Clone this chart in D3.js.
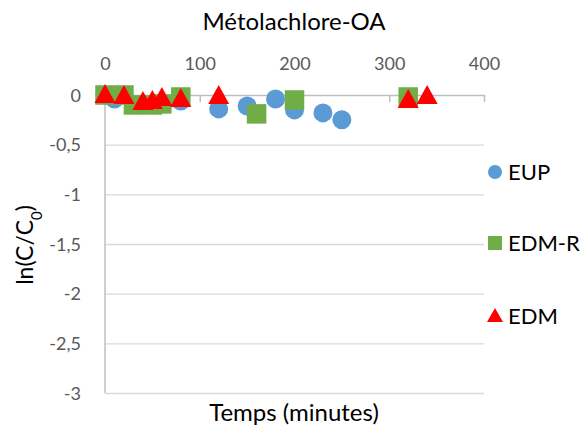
<!DOCTYPE html>
<meta charset="utf-8">
<style>
body { margin: 0; background: #fff; }
svg text { font-family: Lato, "Open Sans", sans-serif; }
.tick text { fill: #595959; font-size: 18px; }
</style>
<svg width="587" height="434"></svg>
<script src="https://d3js.org/d3.v7.min.js"></script>
<script>

// temps (minutes) et ln(C/C0) par série
var eupT = [0, 10, 80, 120, 150, 180, 200, 230, 250];
var eupY = [0, -0.04, -0.06, -0.14, -0.11, -0.04, -0.15, -0.18, -0.25];

var edmrT = [0, 20, 30, 50, 60, 80, 160, 200, 320];
var edmrY = [0, 0, -0.1, -0.1, -0.09, -0.02, -0.19, -0.05, -0.02];

var edmT = [0, 20, 40, 50, 60, 80, 120, 320, 340];
var edmY = [0, -0.01, -0.07, -0.06, -0.03, -0.04, -0.01, -0.05, -0.01];

var xTicks = [0, 100, 200, 300, 400];
var yTicks = [0, -0.5, -1, -1.5, -2, -2.5, -3];
var seriesNames = ["EUP", "EDM-R", "EDM"];
var colors = ["#5b9bd5", "#70ad47", "#ff0000"];

var svg = d3.select("svg"),
    width = +svg.attr("width"),
    height = +svg.attr("height");

var x = d3.scaleLinear().domain([0, 400]).range([105, 484]);
var y = d3.scaleLinear().domain([-3, 0]).range([393, 95]);

var fr = d3.formatLocale({decimal: ",", thousands: " ", grouping: [3], currency: ["", "€"], minus: "-"});
var fmt = fr.format("");

// grille horizontale
svg.append("g")
    .attr("transform", "translate(" + x(0) + ",0)")
    .call(d3.axisLeft(y).tickValues(yTicks.slice(1)).tickSize(-(x(400) - x(0))).tickFormat(""))
    .call(function(g) { g.select(".domain").remove(); })
    .selectAll("line").attr("stroke", "#d9d9d9").attr("stroke-width", 1.3);

// étiquettes y
svg.append("g")
    .attr("transform", "translate(" + (x(0) - 21) + ",0)")
    .call(d3.axisLeft(y).tickValues(yTicks).tickSize(0).tickFormat(fmt))
    .call(function(g) { g.select(".domain").remove(); })
    .selectAll("text").attr("dy", "0.35em");

// axe y
svg.append("line")
    .attr("x1", x(0)).attr("x2", x(0))
    .attr("y1", y(0)).attr("y2", y(-3))
    .attr("stroke", "#bfbfbf").attr("stroke-width", 1.5);

// axe x (à y = 0) avec graduations vers le bas
svg.append("g")
    .attr("transform", "translate(0," + y(0) + ")")
    .call(d3.axisBottom(x).tickValues(xTicks).tickSize(7).tickSizeOuter(0).tickFormat(""))
    .call(function(g) {
      g.select(".domain").attr("stroke", "#bfbfbf").attr("stroke-width", 1.5);
      g.selectAll("line").attr("stroke", "#bfbfbf").attr("stroke-width", 1.5);
    });

// étiquettes x en haut
svg.append("g")
    .attr("transform", "translate(0,73)")
    .call(d3.axisTop(x).tickValues(xTicks).tickSize(0))
    .call(function(g) { g.select(".domain").remove(); });

// points
function series(ts, ys) { return ts.map(function(t, i) { return {t: t, v: ys[i]}; }); }

svg.append("g").selectAll("circle")
    .data(series(eupT, eupY))
    .enter().append("circle")
      .attr("cx", function(d) { return x(d.t); })
      .attr("cy", function(d) { return y(d.v); })
      .attr("r", 9.5)
      .attr("fill", colors[0]);

svg.append("g").selectAll("path")
    .data(series(edmrT, edmrY))
    .enter().append("path")
      .attr("d", d3.symbol(d3.symbolSquare, 19.5 * 19.5))
      .attr("transform", function(d) { return "translate(" + x(d.t) + "," + y(d.v) + ")"; })
      .attr("fill", colors[1]);

var tri = "M0,-11L10.5,8L-10.5,8Z";
svg.append("g").selectAll("path")
    .data(series(edmT, edmY))
    .enter().append("path")
      .attr("d", tri)
      .attr("transform", function(d) { return "translate(" + x(d.t) + "," + y(d.v) + ")"; })
      .attr("fill", colors[2]);

// légende
var legY = [172, 243, 316];
var leg = svg.append("g");
leg.append("circle").attr("cx", 495).attr("cy", legY[0]).attr("r", 7).attr("fill", colors[0]);
leg.append("rect").attr("x", 488).attr("y", legY[1] - 7).attr("width", 14).attr("height", 14).attr("fill", colors[1]);
leg.append("path").attr("d", "M0,-8L8,6L-8,6Z").attr("transform", "translate(495," + legY[2] + ")").attr("fill", colors[2]);
seriesNames.forEach(function(n, i) {
  leg.append("text").attr("x", 508).attr("y", legY[i]).attr("dy", "0.35em")
    .style("font-size", "22px").attr("fill", "#000").text(n);
});

// titres
svg.append("text").attr("x", 294).attr("y", 30).attr("text-anchor", "middle")
    .style("font-size", "24px").attr("fill", "#000").text("Métolachlore-OA");

svg.append("text").attr("x", 294).attr("y", 421).attr("text-anchor", "middle")
    .style("font-size", "24px").attr("fill", "#000").text("Temps (minutes)");

var yt = svg.append("text")
    .attr("transform", "translate(33,245) rotate(-90)")
    .attr("text-anchor", "middle")
    .style("font-size", "23px").attr("fill", "#000");
yt.append("tspan").text("ln(C/C");
yt.append("tspan").attr("baseline-shift", "sub").style("font-size", "15px").text("0");
yt.append("tspan").text(")");

</script>
